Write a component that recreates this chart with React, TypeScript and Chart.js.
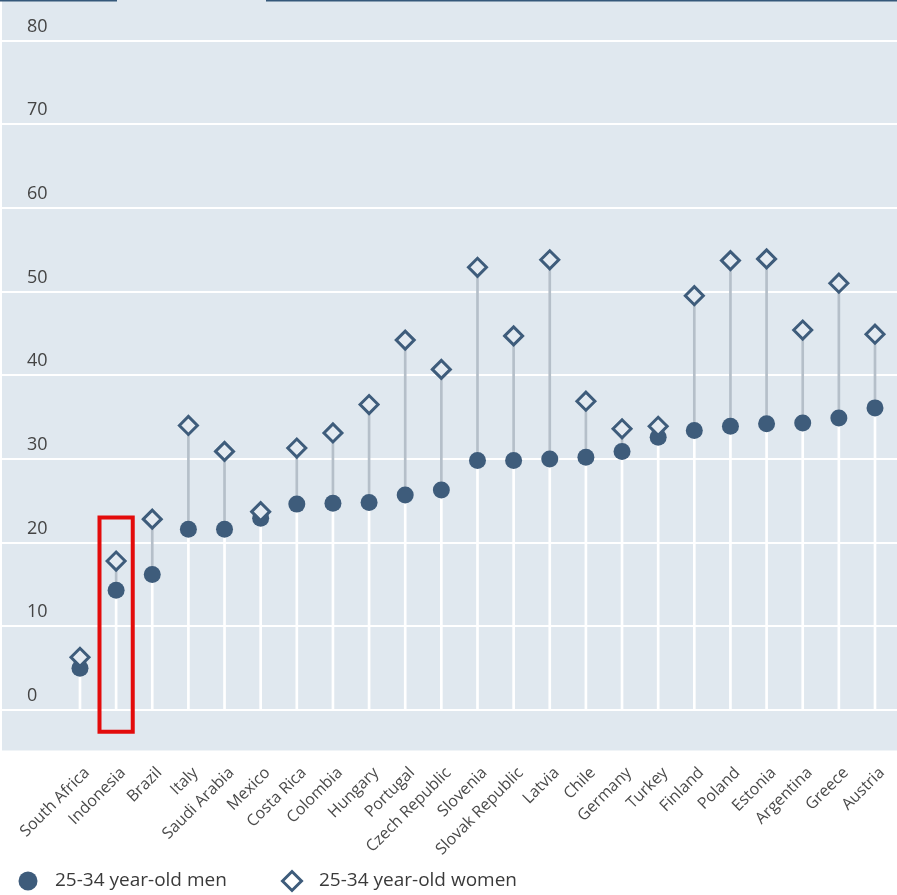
import { useEffect, useRef } from "react";
import { Chart, registerables } from "chart.js";

Chart.register(...registerables);

const countries = [
  "South Africa", "Indonesia", "Brazil", "Italy", "Saudi Arabia", "Mexico",
  "Costa Rica", "Colombia", "Hungary", "Portugal", "Czech Republic", "Slovenia",
  "Slovak Republic", "Latvia", "Chile", "Germany", "Turkey", "Finland", "Poland",
  "Estonia", "Argentina", "Greece", "Austria",
];
const menValues = [
  5.0, 14.3, 16.2, 21.6, 21.6, 22.9, 24.6, 24.7, 24.8, 25.7, 26.3, 29.8,
  29.8, 30.0, 30.2, 30.9, 32.6, 33.4, 33.9, 34.2, 34.3, 34.9, 36.1,
];
const womenValues = [
  6.3, 17.8, 22.8, 34.0, 30.9, 23.7, 31.3, 33.1, 36.5, 44.2, 40.7, 52.9,
  44.7, 53.8, 36.9, 33.6, 33.9, 49.5, 53.7, 53.9, 45.4, 51.0, 44.9,
];
const yTickValues = [0, 10, 20, 30, 40, 50, 60, 70, 80];
const menLabel = "25-34 year-old men";
const womenLabel = "25-34 year-old women";
const highlightIndex = 1;
const highlightRange = [-2.6, 23.0];

const BG = "#e0e8ef";
const DARK = "#3e5c7b";
const STEM_GRAY = "#b5bfc9";
const FONT = "'Open Sans', 'Noto Sans', sans-serif";

export default function App() {
  const ref = useRef<HTMLCanvasElement>(null);

  useEffect(() => {
    if (!ref.current) return;

    const bgPlugin = {
      id: "bgPlugin",
      beforeDraw(chart: any) {
        const { ctx, chartArea } = chart;
        ctx.save();
        ctx.fillStyle = BG;
        ctx.fillRect(chartArea.left, chartArea.top, chartArea.right - chartArea.left, chartArea.bottom - chartArea.top);
        // thin tab-strip line along the top edge
        ctx.fillStyle = "#35587a";
        ctx.fillRect(0, 0, 117, 1.5);
        ctx.fillRect(266, 0, chart.width - 266, 1.5);
        ctx.restore();
      },
    };

    const highlightPlugin = {
      id: "highlightPlugin",
      afterDatasetsDraw(chart: any) {
        const { ctx, scales } = chart;
        const xs = scales.x;
        const ys = scales.y;
        const cx = xs.getPixelForValue(highlightIndex);
        const half = (xs.getPixelForValue(highlightIndex + 1) - cx) * 0.46;
        const top = ys.getPixelForValue(highlightRange[1]);
        const bottom = ys.getPixelForValue(highlightRange[0]);
        ctx.save();
        ctx.strokeStyle = "#e30b0b";
        ctx.lineWidth = 4;
        ctx.strokeRect(cx - half, top, half * 2, bottom - top);
        ctx.restore();
      },
    };

    // Legend drawn from the two point datasets' own styles and labels.
    const legendPlugin = {
      id: "customLegend",
      afterDraw(chart: any) {
        const { ctx } = chart;
        const y = chart.height - 14;
        const items = [
          { ds: chart.data.datasets[1], x: 28 },
          { ds: chart.data.datasets[0], x: 292 },
        ];
        ctx.save();
        for (const it of items) {
          const ds = it.ds;
          ctx.beginPath();
          if (ds.pointStyle === "circle") {
            ctx.arc(it.x, y, 9.5, 0, Math.PI * 2);
            ctx.fillStyle = ds.backgroundColor;
            ctx.fill();
          } else {
            const r = 9.5;
            ctx.moveTo(it.x - r, y);
            ctx.lineTo(it.x, y - r);
            ctx.lineTo(it.x + r, y);
            ctx.lineTo(it.x, y + r);
            ctx.closePath();
            ctx.fillStyle = "#ffffff";
            ctx.fill();
            ctx.lineWidth = ds.borderWidth;
            ctx.strokeStyle = ds.borderColor;
            ctx.stroke();
          }
          ctx.fillStyle = "#3a3a3a";
          ctx.font = `19px ${FONT}`;
          ctx.textBaseline = "middle";
          ctx.textAlign = "left";
          ctx.fillText(ds.label, it.x + 27, y);
        }
        ctx.restore();
      },
    };

    const chart = new Chart(ref.current, {
      type: "bar",
      data: {
        datasets: [
          {
            type: "scatter",
            label: womenLabel,
            data: womenValues.map((v, i) => ({ x: i, y: v })),
            pointStyle: "rectRot",
            pointRadius: 9,
            pointHoverRadius: 9,
            borderWidth: 3,
            borderColor: DARK,
            backgroundColor: "#e3eaf1",
          } as any,
          {
            type: "scatter",
            label: menLabel,
            data: menValues.map((v, i) => ({ x: i, y: v })),
            pointStyle: "circle",
            pointRadius: 8.5,
            pointHoverRadius: 8.5,
            borderWidth: 0,
            borderColor: DARK,
            backgroundColor: DARK,
          } as any,
          {
            type: "bar",
            label: "gap",
            data: menValues.map((v, i) => ({ x: i, y: [v, womenValues[i]] })),
            backgroundColor: STEM_GRAY,
            barThickness: 2,
            grouped: false,
          } as any,
          {
            type: "bar",
            label: "stem",
            data: menValues.map((v, i) => ({ x: i, y: [0, v] })),
            backgroundColor: "#ffffff",
            barThickness: 2,
            grouped: false,
          } as any,
        ],
      },
      options: {
        animation: false,
        responsive: true,
        maintainAspectRatio: false,
        layout: { autoPadding: false, padding: { left: 2, right: 0, top: 0, bottom: 23 } },
        plugins: {
          tooltip: { enabled: false },
          legend: { display: false },
        },
        scales: {
          x: {
            type: "linear",
            offset: false,
            min: -2.158,
            max: 22.609,
            afterBuildTicks: (axis: any) => {
              axis.ticks = countries.map((_, i) => ({ value: i }));
            },
            afterFit: (axis: any) => {
              axis.paddingLeft = 0;
              axis.paddingRight = 0;
            },
            grid: { display: false, drawTicks: false, offset: false },
            border: { display: false },
            ticks: {
              autoSkip: false,
              maxRotation: 45,
              minRotation: 45,
              padding: 13,
              labelOffset: 7,
              color: "#4a4a4a",
              font: { family: FONT, size: 16 },
              callback: (value: any) => countries[value as number] ?? "",
            },
          },
          y: {
            type: "linear",
            min: -4.84,
            max: 84.84,
            afterBuildTicks: (axis: any) => {
              axis.ticks = yTickValues.map((v) => ({ value: v }));
            },
            afterFit: (axis: any) => {
              axis.paddingTop = 0;
              axis.paddingBottom = 0;
              axis.width = 0;
            },
            grid: { color: "#ffffff", lineWidth: 2, drawTicks: false },
            border: { display: false },
            ticks: {
              mirror: true,
              padding: 25,
              labelOffset: -14,
              color: "#444444",
              font: { family: FONT, size: 18 },
            },
          },
        },
      },
      plugins: [bgPlugin, highlightPlugin, legendPlugin],
    } as any);

    return () => chart.destroy();
  }, []);

  return (
    <div style={{ position: "absolute", left: 0, top: 0, width: 897, height: 895 }}>
      <canvas ref={ref} />
    </div>
  );
}
